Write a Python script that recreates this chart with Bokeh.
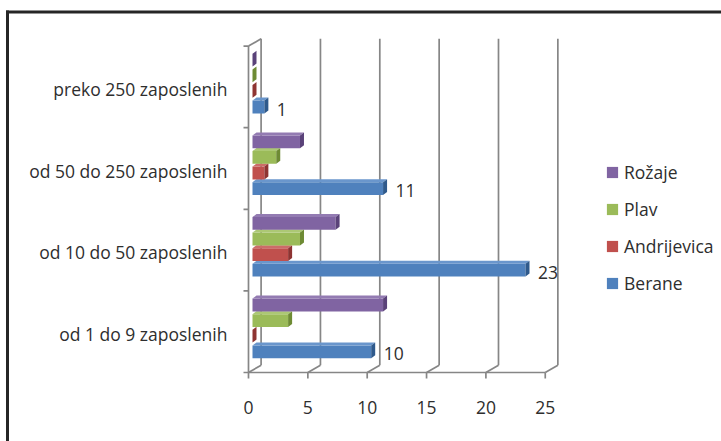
from bokeh.plotting import figure
from bokeh.models import Range1d, Legend, LegendItem, ColumnDataSource
from bokeh.core.properties import value
from bokeh.embed import file_html
from bokeh.resources import INLINE

# ---------------- data ----------------
categories = ["od 1 do 9 zaposlenih", "od 10 do 50 zaposlenih",
              "od 50 do 250 zaposlenih", "preko 250 zaposlenih"]
series_names = ["Berane", "Andrijevica", "Plav", "Rožaje"]
berane = [10, 23, 11, 1]
andrijevica = [0, 3, 1, 0]
plav = [3, 4, 2, 0]
rozaje = [11, 7, 4, 0]
x_ticks = [0, 5, 10, 15, 20, 25]
x_tick_labels = ["0", "5", "10", "15", "20", "25"]

# ---------------- style / geometry ----------------
W, H = 721, 441
X0, XS = 248.0, 11.87     # pixel of value 0 on front axis, pixels per unit
Y0, YS = 372.0, 81.6      # pixel of front floor line, pixels per category band
FONT = "Open Sans"
FSIZE = "17.5px"
TXT = "#2e2e2e"
GRID = "#868686"
colors = ["#4F81BD", "#C0504D", "#9BBB59", "#8064A2"]
tops = ["#6A96CC", "#CC6C69", "#ACC874", "#937BB2"]
ends = ["#2F5A8C", "#8E3432", "#6E8B34", "#5A4279"]

DEPTH_DX, DEPTH_DY = 12.6, 7.3       # wall depth (px)
BAR_SHIFT = 4.0                      # bars drawn a bit into the depth (px)
FACE_DX, FACE_DY = 4.0, 3.0          # 3-D bar faces (px)
FRONT_H = 12.8                       # front face height (px)
BAR_CENTERS = [-18.6, -3.0, 12.6, 28.2]  # px from band centre, up positive
TEXT_DROP = 6.5                      # baseline correction for svg text (px)


def ux(px):
    return px / XS


def uy(px):
    return px / YS


def ax(px):
    return (px - X0) / XS


def ay(py):
    return (Y0 - py) / YS


p = figure(width=W, height=H, output_backend="svg", toolbar_location=None,
           x_range=Range1d(ax(0), ax(W)), y_range=Range1d(ay(H), ay(0)),
           x_axis_location=None, y_axis_location=None, min_border=0)
p.grid.grid_line_color = None
p.outline_line_color = None
p.background_fill_color = "white"
p.border_fill_color = "white"

n_cat = len(categories)
xmax = x_ticks[-1]

# ---------------- walls, floor, axes ----------------
p.segment(x0=[t + ux(DEPTH_DX) for t in x_ticks], y0=[uy(DEPTH_DY)] * len(x_ticks),
          x1=[t + ux(DEPTH_DX) for t in x_ticks], y1=[n_cat + uy(DEPTH_DY)] * len(x_ticks),
          line_color=GRID, line_width=1.7)
p.segment(x0=x_ticks, y0=[0] * len(x_ticks),
          x1=[t + ux(DEPTH_DX) for t in x_ticks], y1=[uy(DEPTH_DY)] * len(x_ticks),
          line_color=GRID, line_width=1.7)
p.segment(x0=[0], y0=[0], x1=[xmax], y1=[0], line_color=GRID, line_width=1.7)
p.segment(x0=x_ticks, y0=[0] * len(x_ticks), x1=x_ticks, y1=[-uy(6)] * len(x_ticks),
          line_color=GRID, line_width=1.7)
bounds = list(range(n_cat + 1))
p.segment(x0=[0], y0=[0], x1=[0], y1=[n_cat], line_color=GRID, line_width=1.7)
p.segment(x0=[0] * len(bounds), y0=bounds, x1=[-ux(5)] * len(bounds), y1=bounds,
          line_color=GRID, line_width=1.7)
p.segment(x0=[0], y0=[n_cat], x1=[ux(DEPTH_DX)], y1=[n_cat + uy(DEPTH_DY)],
          line_color=GRID, line_width=1.7)

# ---------------- bars ----------------
all_vals = [berane, andrijevica, plav, rozaje]
front_renderers = []
for i, vals in enumerate(all_vals):
    bottoms = [j + 0.5 + uy(BAR_CENTERS[i]) - uy((FRONT_H + FACE_DY) / 2) for j in range(n_cat)]
    ftops = [b + uy(FRONT_H) for b in bottoms]
    lefts = [ux(BAR_SHIFT)] * n_cat
    rights = [v + ux(BAR_SHIFT) for v in vals]
    src = ColumnDataSource(dict(y=[b + uy(FRONT_H) / 2 for b in bottoms],
                                left=lefts, right=rights))
    r = p.hbar(y="y", left="left", right="right", height=uy(FRONT_H), source=src,
               fill_color=colors[i], line_color=None)
    front_renderers.append(r)
    top_xs = [[l, rr, rr + ux(FACE_DX), l + ux(FACE_DX)] for l, rr in zip(lefts, rights)]
    top_ys = [[t, t, t + uy(FACE_DY), t + uy(FACE_DY)] for t in ftops]
    p.patches(xs=top_xs, ys=top_ys, fill_color=tops[i], line_color=None)
    end_xs = [[rr, rr + ux(FACE_DX), rr + ux(FACE_DX), rr] for rr in rights]
    end_ys = [[b, b + uy(FACE_DY), t + uy(FACE_DY), t] for b, t in zip(bottoms, ftops)]
    p.patches(xs=end_xs, ys=end_ys, fill_color=ends[i], line_color=None)

# value labels for Berane
lab_y = [j + 0.5 + uy(BAR_CENTERS[0]) - uy(10.0 - TEXT_DROP) for j in range(n_cat)]
lab_x = [v + ux(BAR_SHIFT) + ux(12.5) for v in berane]
p.text(x=lab_x, y=lab_y, text=[str(v) for v in berane], text_font=value(FONT),
       text_font_size=FSIZE, text_color=TXT, text_align="left", text_baseline="alphabetic")

# category labels
p.text(x=[ax(227)] * n_cat, y=[j + 0.5 - uy(8.5 - TEXT_DROP) for j in range(n_cat)], text=categories,
       text_font=value(FONT), text_font_size=FSIZE, text_color=TXT,
       text_align="right", text_baseline="alphabetic")

# x tick labels
p.text(x=x_ticks, y=[ay(413 - TEXT_DROP)] * len(x_ticks), text=x_tick_labels, text_font=value(FONT),
       text_font_size=FSIZE, text_color=TXT, text_align="center", text_baseline="alphabetic")

# outer frame (left and top edges)
p.segment(x0=[ax(7), ax(5.5)], y0=[ay(10), ay(11.5)], x1=[ax(7), ax(W + 5)], y1=[ay(H + 5), ay(11.5)],
          line_color="#262626", line_width=3)

# legend
items = [LegendItem(label=series_names[i], renderers=[front_renderers[i]]) for i in (3, 2, 1, 0)]
legend = Legend(items=items, location=(605, H - 295), orientation="vertical",
                glyph_width=14, glyph_height=14, label_standoff=5, spacing=13,
                padding=0, margin=0, border_line_color=None, background_fill_alpha=0,
                label_text_font=FONT, label_text_font_size=FSIZE, label_text_color=TXT,
                label_height=24)
p.add_layout(legend)

open("out.html", "w").write(file_html(p, INLINE))
